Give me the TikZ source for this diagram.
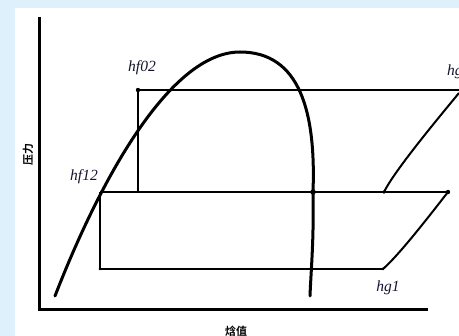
\documentclass[tikz,border=0pt]{standalone}
\usepackage{fontspec}
\setmainfont{Liberation Serif}
\newfontfamily\cjkfont{Noto Sans CJK SC Bold}
\usepackage{tikz}
\usetikzlibrary{positioning,calc}
\definecolor{panelblue}{RGB}{221,240,252}
\definecolor{inkdark}{RGB}{20,20,45}
\tikzset{
  axisline/.style={line width=3pt},
  domeline/.style={line width=3pt, line cap=round},
  cycleline/.style={line width=2pt},
  dot/.style={circle, fill=black, inner sep=0pt, minimum size=4.4pt},
  enth/.style={font=\fontsize{15.5}{15.5}\selectfont\itshape, text=inkdark, inner sep=0pt},
  axislabel/.style={font=\fontsize{11}{11}\selectfont\cjkfont, inner sep=0pt}
}
\begin{document}
\begin{tikzpicture}[x=1pt, y=-1pt]
  \useasboundingbox (0,0) rectangle (459,336);
  \fill[panelblue] (0,0) rectangle (459,336);
  \fill[white] (15,8) rectangle (459,336);

  % axes
  \coordinate (origin) at (39,310);
  \coordinate (ytop) at (39,17);
  \coordinate (xend) at (428,310);
  \draw[axisline] (ytop) -- (origin) -- (xend);
  \node[axislabel, rotate=90] (plabel) at (28,155) {压力};
  \node[axislabel] (hlabel) at (236,331) {焓值};

  % saturation dome
  \coordinate (dtop) at (240,52);
  \coordinate (dsat) at (313,192);
  \draw[domeline] (55,296) .. controls (100,180) and (170,52) .. (dtop)
    .. controls (300,52) and (316,112) .. (dsat)
    .. controls (314,240) and (311,270) .. (310,296);

  % points
  \node[dot] (f02) at (138,90) {};
  \coordinate (f02b) at (138,192);
  \coordinate (topr) at (459,90);
  \coordinate (f12) at (100,192);
  \node[dot, minimum size=5.5pt] (sat) at (dsat) {};
  \node[dot, minimum size=3.8pt] (g2b) at (384,192) {};
  \node[dot] (end1) at (448,192) {};
  \node[dot, minimum size=3pt] (f1b) at (100,269) {};
  \node[dot, minimum size=3pt] (g1) at (383,269) {};
  \coordinate (g2top) at (459,93);

  % cycle lines
  \draw[cycleline] (f02.center) -- (topr);
  \draw[cycleline] (f02.center) -- (f02b);
  \draw[cycleline] (f12) -- (end1.center);
  \draw[cycleline] (f12) -- (f1b.center) -- (g1.center);
  \draw[cycleline] (g1.center) .. controls (400,254) and (430,215) .. (end1.center);
  \draw[cycleline] (g2b.center) .. controls (394,172) and (430,128) .. (g2top);

  % labels
  \node[enth] (hf02) at (142,68) {hf02};
  \node[enth] (hf12) at (84,177) {hf12};
  \node[enth] (hg1) at (388,288) {hg1};
  \node[enth, anchor=west] (hg2) at (447,72) {hg2};
\end{tikzpicture}
\end{document}
